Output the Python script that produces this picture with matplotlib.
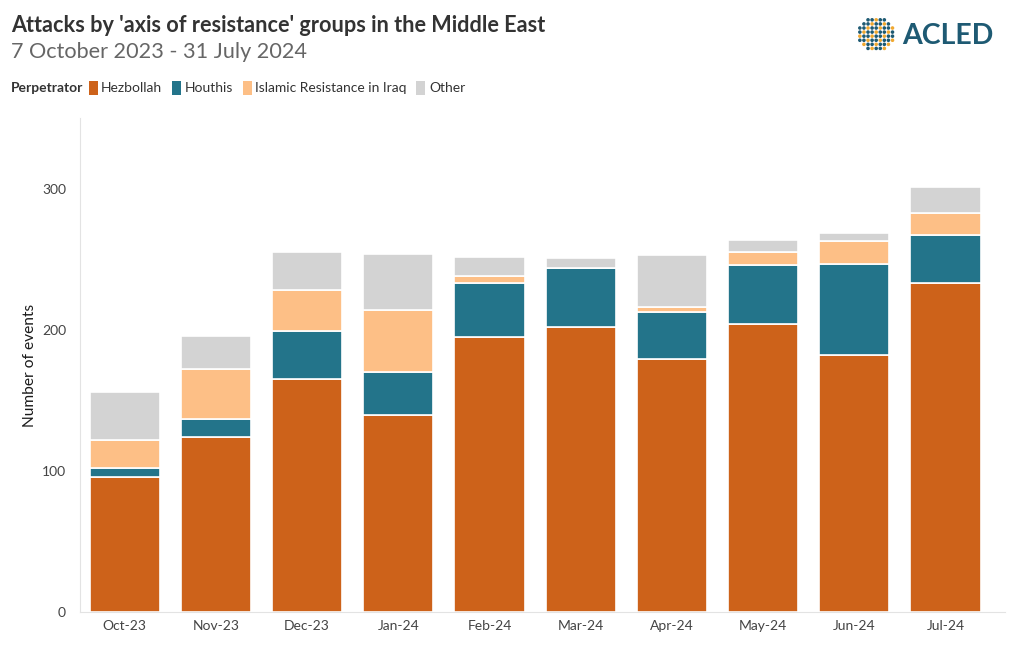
import numpy as np
import matplotlib.pyplot as plt
from matplotlib.patches import Patch

plt.rcParams['font.family'] = ['Lato', 'DejaVu Sans']

# Data
months = ['Oct-23', 'Nov-23', 'Dec-23', 'Jan-24', 'Feb-24', 'Mar-24', 'Apr-24', 'May-24', 'Jun-24', 'Jul-24']
hezbollah = [96, 124, 165, 140, 195, 202, 179, 204, 182, 233]
houthis = [6, 13, 34, 30, 38, 42, 34, 42, 65, 34]
iri = [20, 35, 29, 44, 5, 0, 3, 9, 16, 16]
other = [34, 24, 27, 40, 14, 7, 37, 9, 6, 18]

series = [('Hezbollah', hezbollah, '#cd621a'),
          ('Houthis', houthis, '#23748a'),
          ('Islamic Resistance in Iraq', iri, '#fdbf86'),
          ('Other', other, '#d3d3d3')]

fig = plt.figure(figsize=(10.2, 6.5), dpi=100)
ax = fig.add_axes([0.0784, 0.0585, 0.9066, 0.7595])

x = np.arange(len(months))
bottom = np.zeros(len(months))
for name, vals, col in series:
    ax.bar(x, vals, 0.77, bottom=bottom, color=col, edgecolor='white', linewidth=1.2, label=name)
    bottom += np.array(vals)

ax.set_xlim(-0.49, 9.65)
ax.set_ylim(0, 350)
ax.set_yticks([0, 100, 200, 300])
ax.set_xticks(x)
ax.set_xticklabels(months)
ax.tick_params(axis='both', length=0, labelsize=10, labelcolor='#444444', pad=6)
ax.tick_params(axis='y', pad=10)
for s in ['top', 'right']:
    ax.spines[s].set_visible(False)
for s in ['left', 'bottom']:
    ax.spines[s].set_color('#e3e3e3')
ax.set_ylabel('Number of events', fontsize=11.2, color='#1a1a1a')
ax.yaxis.set_label_coords(-0.047, 0.5)

# Titles
fig.text(0.011, 0.945, "Attacks by 'axis of resistance' groups in the Middle East",
         fontsize=15.6, fontweight='bold', color='#333333', va='bottom')
fig.text(0.011, 0.905, '7 October 2023 - 31 July 2024', fontsize=15.6, color='#666666', va='bottom')

# Legend
fig.text(0.011, 0.865, 'Perpetrator', fontsize=10, fontweight='bold', color='#333333', va='center')
handles = [Patch(facecolor=c, edgecolor='none', label=n) for n, v, c in series]
fig.legend(handles=handles, loc='center left', bbox_to_anchor=(0.087, 0.865), ncol=4,
           frameon=False, fontsize=10, handlelength=0.65, handleheight=1.2,
           handletextpad=0.25, columnspacing=0.7, borderaxespad=0, borderpad=0,
           labelcolor='#333333')

# ACLED logo
fig.text(0.884, 0.945, 'ACLED', fontsize=20.5, fontweight='bold', color='#1e5a73', va='center')
lx = fig.add_axes([0.836, 0.915, 0.046, 0.065])
gx, gy = np.meshgrid(np.linspace(-1, 1, 11), np.linspace(-1, 1, 10))
mask = (gx / 1.0) ** 2 + (gy / 0.9) ** 2 <= 1
cols = np.where((np.arange(gx.size).reshape(gx.shape) % 3) == 0, '#f0a830', '#1e5a73')
lx.scatter(gx[mask], gy[mask], s=2.5, c=cols[mask])
lx.set_xlim(-1.15, 1.15)
lx.set_ylim(-1.15, 1.15)
lx.axis('off')

fig.savefig('out.png', dpi=100)
